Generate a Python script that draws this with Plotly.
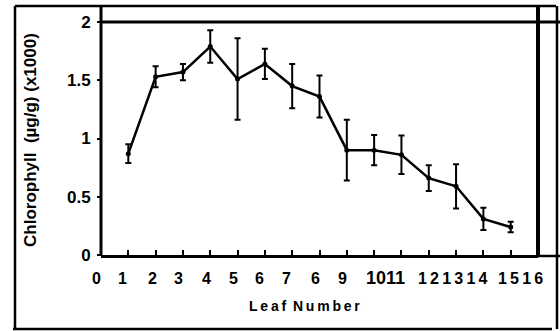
import plotly.graph_objects as go

# ---- data ----
leaf = [1, 2, 3, 4, 5, 6, 7, 8, 9, 10, 11, 12, 13, 14, 15]
chlorophyll = [0.87, 1.53, 1.57, 1.79, 1.51, 1.64, 1.45, 1.36, 0.90, 0.90, 0.86, 0.66, 0.59, 0.31, 0.24]
err = [0.08, 0.09, 0.07, 0.14, 0.35, 0.13, 0.19, 0.18, 0.26, 0.13, 0.165, 0.11, 0.19, 0.095, 0.045]

y_ticks = [0, 0.5, 1, 1.5, 2]
y_tick_text = ["0", "0.5", "1", "1.5", "2"]

# x tick labels as printed in the (scanned) original
x_label_text = ["0", "1", "2", "3", "4", "5", "6", "7", "6", "9", "1011", "1\u20092\u20091\u20093\u20091\u20094", "1\u20095\u20091\u20096"]
x_label_pos = [-0.18, 0.77, 1.87, 2.82, 3.85, 4.84, 5.82, 6.81, 7.84, 8.83, 10.4, 12.89, 15.35]

W, H = 560, 331
L, R, T, B = 101, 538, 22, 255  # plot area in pixels
XMIN, XMAX = 0, 16


def px(x):
    return (x - L) / (R - L)


def py(y):
    return (B - y) / (B - T)


def dx(v):
    return (v - XMIN) / (XMAX - XMIN)


FONT = "Liberation Sans Narrow, Arial Narrow, Liberation Sans, Arial, sans-serif"

fig = go.Figure()
fig.add_trace(go.Scatter(
    x=leaf, y=chlorophyll, mode="lines+markers",
    line=dict(color="black", width=2.5),
    marker=dict(color="black", size=5),
    error_y=dict(type="data", array=err, visible=True, color="black", thickness=2, width=3),
    showlegend=False, cliponaxis=False,
))

shapes = []
def line(x0, y0, x1, y1, w):
    shapes.append(dict(type="line", xref="paper", yref="paper",
                       x0=px(x0), y0=py(y0), x1=px(x1), y1=py(y1),
                       line=dict(color="black", width=w), layer="above"))

# outer frame
line(15, 6, 556, 6, 2.5)
line(15, 6, 15, 329, 2.5)
line(13, 329, 552, 329, 2.5)
line(557, 6, 557, 329, 2.5)
# plot area frame
line(101, 22, 560, 22, 3)
line(101, 6, 101, 256, 3)
line(538, 6, 538, 256, 4)
line(538, 256, 560, 256, 2.5)

annotations = []
for t, p in zip(x_label_text, x_label_pos):
    big = (t == "1011")
    annotations.append(dict(
        x=dx(p), xref="paper", y=py(278), yref="paper", text=t, showarrow=False,
        xanchor="center", yanchor="middle",
        font=dict(family=FONT if not big else "Liberation Sans, Arial", size=16 if not big else 18,
                  color="black", weight="bold")))

annotations.append(dict(
    x=px(304), xref="paper", y=py(306), yref="paper",
    text="L\u2009e\u2009a\u2009f\u2009 N\u2009u\u2009m\u2009b\u2009e\u2009r",
    showarrow=False, xanchor="center", yanchor="middle",
    font=dict(family="Liberation Sans, Arial", size=14, color="black", weight="bold")))

annotations.append(dict(
    x=px(30), xref="paper", y=py(140), yref="paper",
    text="Chlorophyll  (\u00b5g/g) (x1000)", textangle=-90,
    showarrow=False, xanchor="center", yanchor="middle",
    font=dict(family="Liberation Sans, Arial", size=17, color="black", weight="bold")))

fig.update_layout(
    width=W, height=H,
    margin=dict(l=L, r=W - R, t=T, b=H - B, pad=0),
    paper_bgcolor="white", plot_bgcolor="white",
    shapes=shapes, annotations=annotations,
    xaxis=dict(range=[XMIN, XMAX], showgrid=False, zeroline=False, showline=True,
               linecolor="black", linewidth=3, ticks="inside", ticklen=5,
               tickwidth=2, tickcolor="black", tickvals=leaf, showticklabels=False),
    yaxis=dict(range=[0, 2], showgrid=False, zeroline=False, showline=False,
               ticks="outside", ticklen=3, tickwidth=2, tickcolor="black",
               tickvals=y_ticks, ticktext=y_tick_text, ticklabelstandoff=3,
               tickfont=dict(family="Liberation Sans, Arial", size=17, color="black", weight="bold")),
)

fig.write_html("out.html", post_script="document.body.style.margin='0';",
               config={"displayModeBar": False})
